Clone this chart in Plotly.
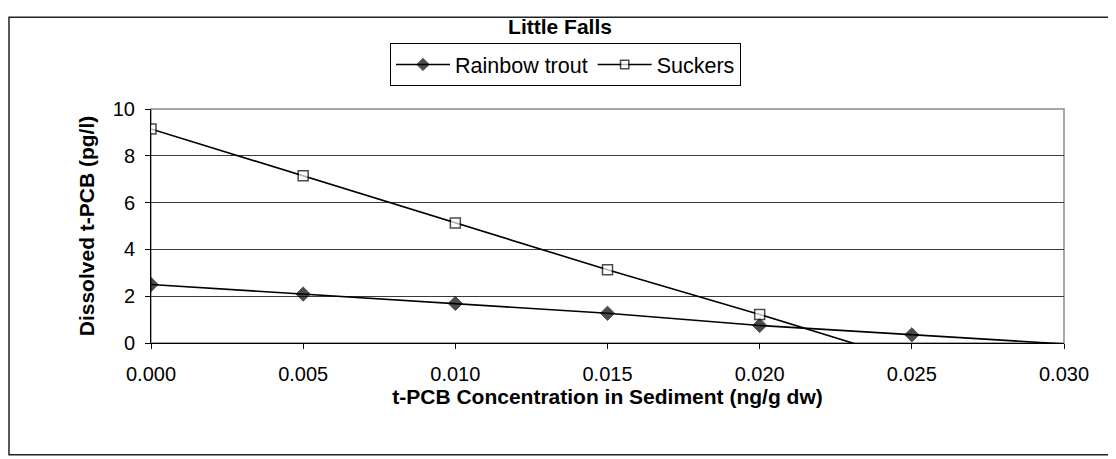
import plotly.graph_objects as go

# Data
x_trout = [0.000, 0.005, 0.010, 0.015, 0.020, 0.025, 0.030]
y_trout = [2.50, 2.09, 1.69, 1.27, 0.75, 0.35, -0.04]
x_suckers = [0.000, 0.005, 0.010, 0.015, 0.020, 0.025]
y_suckers = [9.15, 7.15, 5.13, 3.13, 1.22, -0.78]
x_ticks = [0.000, 0.005, 0.010, 0.015, 0.020, 0.025, 0.030]
x_ticklabels = ["0.000", "0.005", "0.010", "0.015", "0.020", "0.025", "0.030"]
y_ticks = [0, 2, 4, 6, 8, 10]

FONT = "Liberation Sans, Arial, sans-serif"

fig = go.Figure()
fig.add_trace(go.Scatter(
    x=x_trout, y=y_trout, mode="lines+markers", name="Rainbow trout",
    line=dict(color="black", width=1.6),
    marker=dict(symbol="diamond", color="black", size=[11 if v >= 0 else 0 for v in y_trout],
                line=dict(color="black", width=1)),
))
fig.add_trace(go.Scatter(
    x=x_suckers, y=y_suckers, mode="lines+markers", name="Suckers",
    line=dict(color="black", width=1.6),
    marker=dict(symbol="square", color="white", size=[10 if v >= 0 else 0 for v in y_suckers],
                line=dict(color="black", width=1.5)),
))

# page body has an 8px margin: figure occupies (8,8) onward
OFF = 8
W, H = 1116 - OFF, 459 - OFF
L, R, T, B = 151 - OFF, 1064 - OFF, 103 - OFF, 343 - OFF
pw, ph = R - L, B - T

def px(abs_x):
    return (abs_x - OFF - L) / pw

def py(abs_y):
    return (B - (abs_y - OFF)) / ph

fig.update_layout(
    width=W, height=H,
    margin=dict(l=L, r=W - R, t=T, b=H - B),
    paper_bgcolor="white", plot_bgcolor="white",
    font=dict(family=FONT, color="black", size=20),
    title=dict(text="<b>Little Falls</b>", x=(560 - OFF) / W, xanchor="center", xref="container",
               y=1 - (27 - OFF) / H, yanchor="middle", yref="container",
               font=dict(family=FONT, size=21, color="black")),
    showlegend=True,
    legend=dict(orientation="h", xref="container", yref="container",
                x=(565.5 - OFF) / W, xanchor="center", y=1 - (43 - OFF) / H, yanchor="top",
                bordercolor="black", borderwidth=1, bgcolor="white",
                font=dict(family=FONT, size=21.5, color="black"),
                itemwidth=54, tracegroupgap=0),
    xaxis=dict(range=[0, 0.030], tickvals=x_ticks, ticktext=x_ticklabels,
               showgrid=False, zeroline=False, showline=True, linecolor="black", linewidth=1,
               ticks="outside", ticklen=5, tickcolor="black", tickwidth=1,
               ticklabelstandoff=8,
               tickfont=dict(family=FONT, size=20),
               title=dict(text="<b>t-PCB Concentration in Sediment (ng/g dw)</b>",
                          font=dict(family=FONT, size=21), standoff=0)),
    yaxis=dict(range=[0, 10], tickvals=y_ticks,
               showgrid=True, gridcolor="#3a3a3a", gridwidth=1,
               zeroline=False, showline=True, linecolor="black", linewidth=1,
               ticks="outside", ticklen=5, tickcolor="black", tickwidth=1,
               ticklabelstandoff=6,
               tickfont=dict(family=FONT, size=20),
               title=dict(text="<b>Dissolved t-PCB (pg/l)</b>",
                          font=dict(family=FONT, size=21), standoff=12)),
    shapes=[
        dict(type="rect", xref="paper", yref="paper", x0=0, x1=1, y0=0, y1=1,
             line=dict(color="#8a8a8a", width=1.5), layer="below"),
        dict(type="rect", xref="paper", yref="paper",
             x0=px(OFF + 1), x1=px(1112.5), y0=py(457.5), y1=py(OFF + 1),
             line=dict(color="#222222", width=1.5), layer="below"),
    ],
)

fig.write_html("out.html")
